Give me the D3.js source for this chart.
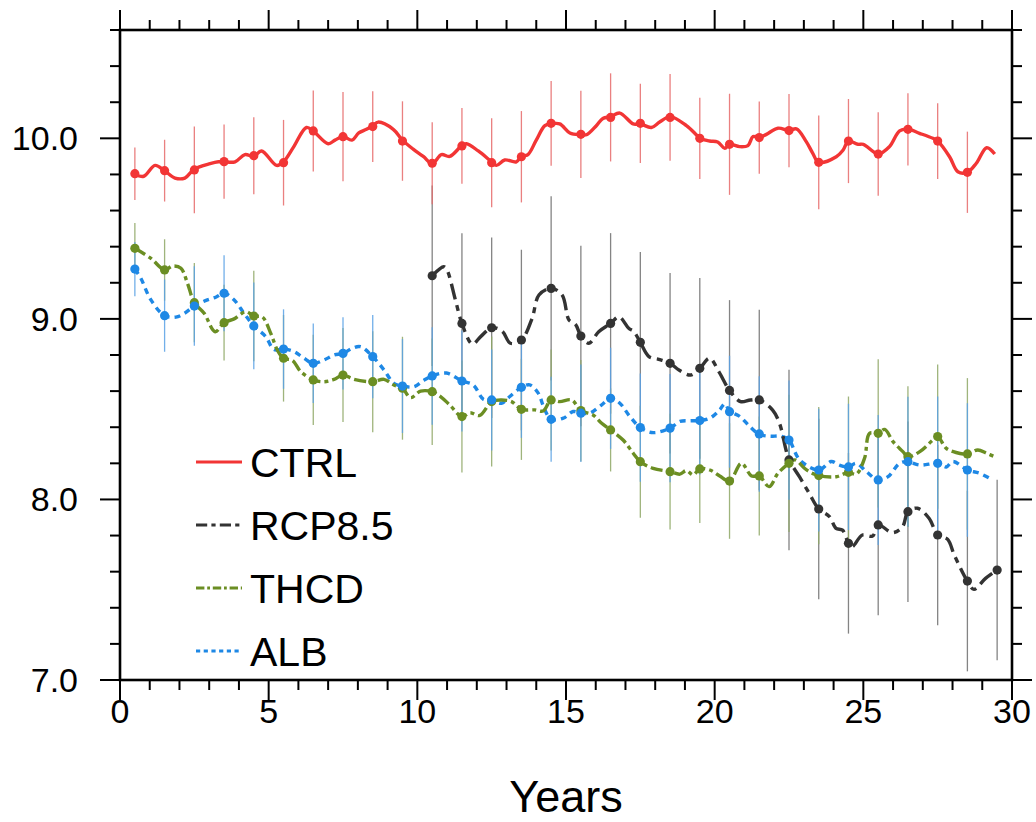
<!DOCTYPE html>
<html><head><meta charset="utf-8">
<script src="https://cdn.jsdelivr.net/npm/d3@7"></script>
<style>html,body{margin:0;padding:0;background:#fff;} svg{display:block;}</style>
</head><body>
<script>
// ---------- data ----------
const seriesNames = ["CTRL", "RCP8.5", "THCD", "ALB"];
const xTickLabels = ["0", "5", "10", "15", "20", "25", "30"];
const yTickLabels = ["7.0", "8.0", "9.0", "10.0"];

const ctrlYears = [0.5,1.5,2.5,3.5,4.5,5.5,6.5,7.5,8.5,9.5,10.5,11.5,12.5,13.5,14.5,15.5,16.5,17.5,18.5,19.5,20.5,21.5,22.5,23.5,24.5,25.5,26.5,27.5,28.5];
const ctrlMean = [9.804,9.821,9.825,9.871,9.904,9.865,10.041,10.009,10.065,9.985,9.862,9.958,9.865,9.898,10.083,10.022,10.116,10.083,10.116,10.0,9.967,10.004,10.043,9.867,9.985,9.913,10.05,9.985,9.812];
const ctrlErr = [0.145,0.171,0.24,0.205,0.213,0.237,0.224,0.247,0.196,0.22,0.227,0.21,0.246,0.253,0.235,0.242,0.244,0.22,0.24,0.225,0.28,0.2,0.203,0.26,0.233,0.231,0.2,0.21,0.225];
const ctrlCurve = [[0.5,9.80],[0.8,9.79],[1.18,9.85],[1.5,9.82],[1.85,9.78],[2.18,9.78],[2.5,9.83],[3.03,9.86],[3.31,9.87],[3.5,9.87],[3.87,9.87],[4.2,9.91],[4.5,9.90],[4.76,9.93],[5.27,9.85],[5.5,9.87],[5.83,9.95],[6.27,10.06],[6.5,10.04],[7.0,9.97],[7.23,9.99],[7.5,10.01],[7.8,9.99],[8.03,10.03],[8.29,10.05],[8.5,10.07],[8.68,10.09],[9.19,10.05],[9.5,9.99],[9.86,9.94],[10.2,9.90],[10.5,9.86],[10.81,9.91],[11.09,9.90],[11.5,9.96],[11.65,9.97],[12.05,9.93],[12.5,9.87],[12.66,9.85],[12.94,9.88],[13.33,9.87],[13.5,9.90],[13.72,9.91],[14.0,9.99],[14.29,10.07],[14.5,10.08],[14.79,10.08],[15.13,10.03],[15.5,10.02],[15.69,10.02],[16.02,10.07],[16.24,10.11],[16.5,10.12],[16.81,10.14],[17.26,10.08],[17.5,10.08],[17.87,10.06],[18.15,10.09],[18.5,10.12],[19.05,10.07],[19.38,10.02],[19.5,10.0],[19.83,9.985],[20.1,9.98],[20.34,9.945],[20.5,9.967],[20.84,9.954],[21.12,9.96],[21.29,10.01],[21.5,10.004],[21.74,10.022],[22.13,10.056],[22.5,10.043],[22.75,10.052],[23.08,9.982],[23.3,9.917],[23.5,9.867],[24.09,9.898],[24.32,9.935],[24.5,9.985],[24.82,9.967],[25.0,9.967],[25.5,9.913],[25.88,9.954],[26.22,10.041],[26.5,10.05],[26.89,10.028],[27.34,10.0],[27.5,9.985],[27.9,9.898],[28.18,9.815],[28.5,9.812],[28.8,9.862],[29.15,9.948],[29.42,9.913]];

const rcpYears = [10.5,11.5,12.5,13.5,14.5,15.5,16.5,17.5,18.5,19.5,20.5,21.5,22.5,23.5,24.5,25.5,26.5,27.5,28.5,29.5];
const rcpMean = [9.239,8.975,8.951,8.883,9.169,8.905,8.975,8.87,8.754,8.726,8.604,8.551,8.219,7.947,7.757,7.859,7.932,7.803,7.548,7.609];
const rcpErr = [0.50,0.50,0.50,0.50,0.51,0.50,0.50,0.50,0.50,0.50,0.50,0.50,0.50,0.50,0.50,0.50,0.50,0.50,0.50,0.50];
const rcpCurve = [[10.5,9.239],[10.89,9.289],[11.0,9.27],[11.28,9.105],[11.5,8.975],[11.85,8.861],[12.13,8.902],[12.5,8.951],[12.85,8.933],[13.13,8.865],[13.5,8.883],[13.86,9.003],[14.09,9.132],[14.5,9.169],[14.87,9.132],[15.1,8.994],[15.32,8.97],[15.5,8.905],[15.77,8.865],[16.1,8.929],[16.5,8.975],[16.78,9.012],[17.11,8.948],[17.28,8.93],[17.5,8.87],[17.79,8.791],[18.12,8.776],[18.5,8.754],[18.8,8.717],[19.19,8.689],[19.5,8.726],[19.83,8.782],[20.14,8.708],[20.5,8.604],[20.87,8.542],[21.2,8.551],[21.5,8.551],[21.95,8.495],[22.18,8.422],[22.4,8.274],[22.5,8.219],[22.85,8.126],[23.18,8.034],[23.5,7.947],[23.86,7.905],[24.08,7.84],[24.3,7.83],[24.5,7.757],[24.62,7.738],[24.97,7.803],[25.31,7.797],[25.5,7.859],[25.98,7.816],[26.32,7.849],[26.5,7.932],[26.82,7.951],[27.21,7.896],[27.5,7.803],[27.83,7.78],[28.06,7.692],[28.5,7.548],[28.72,7.502],[29.11,7.563],[29.5,7.609]];

const thcdYears = ctrlYears;
const thcdMean = [9.391,9.271,9.09,8.979,9.016,8.782,8.662,8.689,8.652,8.616,8.597,8.459,8.542,8.499,8.551,8.492,8.385,8.209,8.154,8.169,8.102,8.13,8.2,8.132,8.15,8.366,8.237,8.348,8.252];
const thcdErr = [0.14,0.17,0.22,0.21,0.25,0.24,0.25,0.26,0.28,0.285,0.295,0.31,0.36,0.28,0.28,0.28,0.23,0.31,0.32,0.30,0.32,0.33,0.38,0.38,0.42,0.41,0.39,0.40,0.42];
const thcdCurve = [[0.5,9.391],[1.04,9.335],[1.5,9.271],[1.77,9.293],[2.05,9.28],[2.27,9.197],[2.5,9.09],[2.83,9.031],[3.2,8.929],[3.5,8.979],[3.84,9.0],[4.23,9.04],[4.5,9.016],[4.79,9.01],[5.07,8.92],[5.29,8.828],[5.5,8.782],[5.8,8.77],[6.08,8.708],[6.5,8.662],[6.86,8.652],[7.2,8.665],[7.5,8.689],[7.87,8.665],[8.5,8.652],[8.88,8.665],[9.21,8.634],[9.5,8.616],[9.77,8.564],[10.11,8.60],[10.5,8.597],[10.78,8.57],[11.09,8.523],[11.5,8.459],[11.77,8.48],[12.1,8.465],[12.5,8.542],[12.83,8.551],[13.17,8.542],[13.5,8.499],[13.95,8.496],[14.23,8.49],[14.5,8.551],[14.79,8.542],[15.19,8.551],[15.5,8.492],[15.91,8.468],[16.2,8.422],[16.5,8.385],[16.92,8.329],[17.26,8.256],[17.5,8.209],[17.93,8.172],[18.5,8.154],[18.83,8.14],[19.05,8.16],[19.28,8.136],[19.5,8.169],[19.84,8.163],[20.17,8.13],[20.5,8.102],[20.9,8.2],[21.24,8.13],[21.5,8.13],[21.83,8.071],[22.13,8.145],[22.5,8.2],[22.7,8.219],[23.08,8.165],[23.5,8.132],[24.09,8.126],[24.5,8.15],[24.76,8.14],[25.04,8.228],[25.21,8.366],[25.5,8.366],[25.72,8.388],[26.0,8.32],[26.33,8.265],[26.5,8.237],[26.9,8.265],[27.34,8.329],[27.5,8.348],[27.79,8.283],[28.12,8.26],[28.5,8.252],[28.85,8.274],[29.15,8.255],[29.41,8.237]];

const albYears = ctrlYears;
const albMean = [9.276,9.018,9.071,9.142,8.961,8.833,8.754,8.809,8.791,8.628,8.684,8.656,8.551,8.621,8.444,8.478,8.56,8.398,8.395,8.437,8.486,8.363,8.329,8.163,8.18,8.108,8.209,8.2,8.163];
const albErr = [0.15,0.20,0.22,0.21,0.24,0.22,0.22,0.20,0.23,0.26,0.27,0.28,0.28,0.28,0.235,0.27,0.28,0.30,0.30,0.30,0.31,0.32,0.33,0.34,0.35,0.36,0.36,0.37,0.37];
const albCurve = [[0.5,9.276],[0.7,9.225],[1.04,9.105],[1.5,9.018],[1.88,9.01],[2.16,9.03],[2.5,9.071],[2.94,9.105],[3.22,9.12],[3.5,9.142],[3.84,9.105],[4.17,9.031],[4.5,8.961],[4.9,8.902],[5.18,8.83],[5.5,8.833],[5.85,8.819],[6.19,8.782],[6.5,8.754],[6.86,8.772],[7.2,8.80],[7.5,8.809],[7.81,8.837],[8.09,8.846],[8.5,8.791],[8.88,8.717],[9.21,8.643],[9.5,8.628],[9.88,8.624],[10.22,8.66],[10.5,8.684],[10.98,8.70],[11.5,8.656],[11.88,8.634],[12.22,8.555],[12.5,8.551],[12.83,8.533],[13.11,8.57],[13.5,8.621],[13.78,8.634],[14.06,8.59],[14.29,8.495],[14.5,8.444],[14.91,8.45],[15.24,8.487],[15.5,8.478],[15.8,8.478],[16.19,8.523],[16.5,8.56],[16.81,8.533],[17.15,8.459],[17.5,8.398],[17.93,8.37],[18.5,8.395],[18.83,8.432],[19.17,8.436],[19.5,8.437],[19.84,8.45],[20.17,8.496],[20.34,8.53],[20.5,8.49],[20.85,8.459],[21.18,8.404],[21.5,8.361],[21.85,8.35],[22.24,8.35],[22.5,8.329],[22.86,8.219],[23.5,8.163],[23.92,8.21],[24.2,8.19],[24.5,8.18],[24.76,8.2],[25.1,8.154],[25.5,8.108],[25.83,8.126],[26.22,8.2],[26.5,8.209],[26.9,8.19],[27.5,8.2],[27.79,8.18],[28.01,8.21],[28.5,8.163],[28.91,8.145],[29.35,8.108]];

// ---------- layout ----------
const W = 1036, H = 822;
const L = 120, R = 1012, T = 30, B = 680;
const font = "'Liberation Sans', Arial, Helvetica, sans-serif";

const svg = d3.select("body").append("svg").attr("width", W).attr("height", H);
const x = d3.scaleLinear().domain([0, 30]).range([L, R]);
const y = d3.scaleLinear().domain([7.0, 10.6]).range([B, T]);

const styles = [
  {name: seriesNames[0], color: "#f23535", bar: "#e76a6a", dash: null, width: 3.4},
  {name: seriesNames[1], color: "#333333", bar: "#6f6f6f", dash: "16,6,6,6", width: 3.4},
  {name: seriesNames[2], color: "#6b8e23", bar: "#8fa866", dash: "12,4,4,4", width: 3.4},
  {name: seriesNames[3], color: "#1e88e5", bar: "#5aa2e6", dash: "6,5", width: 3.4}
];
const series = [
  {st: styles[1], years: rcpYears, mean: rcpMean, err: rcpErr, curve: rcpCurve},
  {st: styles[2], years: thcdYears, mean: thcdMean, err: thcdErr, curve: thcdCurve},
  {st: styles[3], years: albYears, mean: albMean, err: albErr, curve: albCurve},
  {st: styles[0], years: ctrlYears, mean: ctrlMean, err: ctrlErr, curve: ctrlCurve}
];

// error bars
series.forEach(s => {
  svg.append("g").selectAll("line").data(s.years).join("line")
    .attr("x1", d => x(d)).attr("x2", d => x(d))
    .attr("y1", (d, i) => y(s.mean[i] + s.err[i]))
    .attr("y2", (d, i) => y(s.mean[i] - s.err[i]))
    .attr("stroke", s.st.bar).attr("stroke-width", 1.3).attr("opacity", 0.85);
});

// lines
const lineGen = d3.line().x(d => x(d[0])).y(d => y(d[1])).curve(d3.curveCatmullRom.alpha(0.5));
[series[3], series[2], series[1], series[0]].forEach(s => {
  svg.append("path").attr("d", lineGen(s.curve))
    .attr("fill", "none").attr("stroke", s.st.color).attr("stroke-width", s.st.width)
    .attr("stroke-dasharray", s.st.dash).attr("stroke-linejoin", "round");
});
// markers
series.forEach(s => {
  svg.append("g").selectAll("circle").data(s.years).join("circle")
    .attr("cx", d => x(d)).attr("cy", (d, i) => y(s.mean[i]))
    .attr("r", 4.6).attr("fill", s.st.color);
});

// ---------- axes ----------
const majorX = d3.range(0, 31, 5), minorX = d3.range(0, 31, 1);
const majorY = [7, 8, 9, 10], minorY = d3.range(7, 10.61, 0.2);
const ax = svg.append("g").attr("stroke", "#000");
minorX.forEach(v => {
  const len = majorX.includes(v) ? 20 : 10;
  ax.append("line").attr("x1", x(v)).attr("x2", x(v)).attr("y1", B).attr("y2", B + len).attr("stroke-width", 2);
  ax.append("line").attr("x1", x(v)).attr("x2", x(v)).attr("y1", T).attr("y2", T - len).attr("stroke-width", 2);
});
minorY.forEach(v => {
  const isMaj = majorY.some(m => Math.abs(m - v) < 1e-6);
  const len = isMaj ? 20 : 10;
  ax.append("line").attr("x1", L).attr("x2", L - len).attr("y1", y(v)).attr("y2", y(v)).attr("stroke-width", 2);
  ax.append("line").attr("x1", R).attr("x2", R + len).attr("y1", y(v)).attr("y2", y(v)).attr("stroke-width", 2);
});
svg.append("rect").attr("x", L).attr("y", T).attr("width", R - L).attr("height", B - T)
  .attr("fill", "none").attr("stroke", "#000").attr("stroke-width", 2.6);

svg.append("g").selectAll("text").data(majorX).join("text")
  .attr("x", d => x(d)).attr("y", 723).attr("text-anchor", "middle")
  .attr("font-family", font).attr("font-size", 34).text((d, i) => xTickLabels[i]);
svg.append("g").selectAll("text").data(majorY).join("text")
  .attr("x", 78).attr("y", d => y(d) + 12).attr("text-anchor", "end")
  .attr("font-family", font).attr("font-size", 34).text((d, i) => yTickLabels[i]);
svg.append("text").attr("x", (L + R) / 2).attr("y", 812).attr("text-anchor", "middle")
  .attr("font-family", font).attr("font-size", 45).text("Years");

// ---------- legend ----------
const legY = [462, 525, 588, 651];
styles.forEach((st, i) => {
  svg.append("line").attr("x1", 196).attr("x2", 242).attr("y1", legY[i]).attr("y2", legY[i])
    .attr("stroke", st.color).attr("stroke-width", 3).attr("stroke-dasharray", st.dash ? st.dash.split(",").map(v => v * 0.7).join(",") : null);
  svg.append("text").attr("x", 250).attr("y", legY[i] + 15)
    .attr("font-family", font).attr("font-size", 41).text(st.name);
});
</script>
</body></html>
